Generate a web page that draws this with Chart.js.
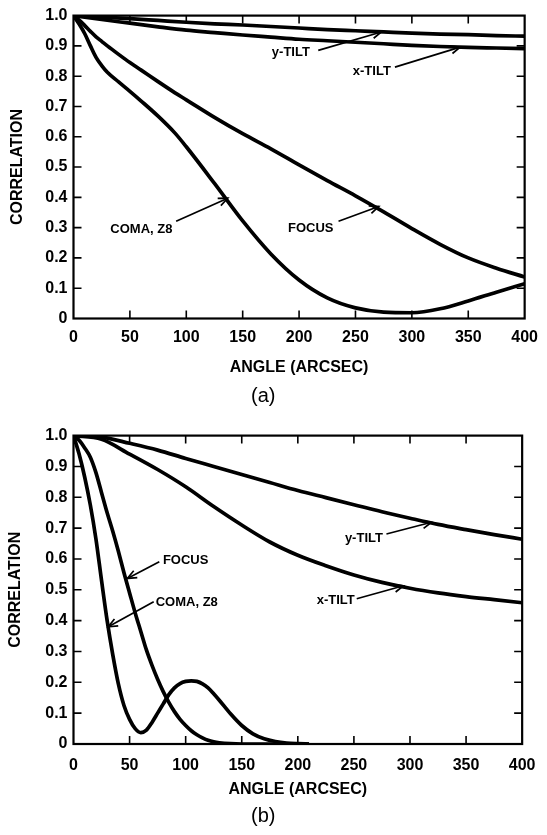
<!DOCTYPE html>
<html>
<head>
<meta charset="utf-8">
<script src="https://cdn.jsdelivr.net/npm/chart.js@4.4.1/dist/chart.umd.min.js"></script>
<style>
  html, body { margin: 0; padding: 0; background: #fff; }
  #wrap { position: relative; width: 547px; height: 835px; }
  canvas { position: absolute; left: 0; }
  #chartA { top: 0; }
  #chartB { top: 420px; }
</style>
</head>
<body>
<div id="wrap">
  <canvas id="chartA" width="547" height="420"></canvas>
  <canvas id="chartB" width="547" height="415"></canvas>
</div>
<script>
// ---- (a) ----
const tiltAnglesA = [0, 25, 50, 75, 100, 125, 150, 175, 200, 225, 250, 275, 300, 325, 350, 375, 400];
const yTiltA = [1.0, 0.995, 0.99, 0.984, 0.978, 0.973, 0.969, 0.964, 0.959, 0.954, 0.95, 0.946, 0.942, 0.939, 0.937, 0.934, 0.932];
const xTiltA = [1.0, 0.987, 0.975, 0.963, 0.952, 0.944, 0.936, 0.929, 0.922, 0.917, 0.912, 0.907, 0.902, 0.898, 0.895, 0.893, 0.891];

const aberrAnglesA = [0, 5, 10, 15, 20, 25, 30, 40, 50, 60, 75, 90, 100, 125, 150, 175, 200, 225, 250, 275, 300, 325, 350, 375, 400];
const focusA = [1.0, 0.985, 0.967, 0.948, 0.93, 0.915, 0.9, 0.872, 0.845, 0.82, 0.782, 0.745, 0.722, 0.664, 0.61, 0.56, 0.507, 0.455, 0.405, 0.352, 0.297, 0.245, 0.2, 0.166, 0.137];
const comaA = [1.0, 0.972, 0.94, 0.9, 0.862, 0.835, 0.813, 0.781, 0.75, 0.718, 0.668, 0.612, 0.567, 0.446, 0.322, 0.213, 0.127, 0.068, 0.035, 0.021, 0.019, 0.032, 0.058, 0.087, 0.115];

// ---- (b) ----
const tiltAnglesB = [0, 25, 50, 75, 100, 125, 150, 175, 200, 225, 250, 275, 300, 325, 350, 375, 400];
const yTiltB = [1.0, 0.995, 0.975, 0.953, 0.926, 0.9, 0.874, 0.848, 0.822, 0.799, 0.776, 0.753, 0.732, 0.712, 0.695, 0.679, 0.664];
const xTiltB = [1.0, 0.988, 0.94, 0.89, 0.834, 0.77, 0.71, 0.655, 0.612, 0.578, 0.548, 0.524, 0.505, 0.49, 0.478, 0.468, 0.458];

const aberrAnglesB = [0, 5, 10, 15, 20, 25, 30, 35, 40, 45, 50, 55, 60, 65, 70, 75, 80, 85, 90, 95, 100, 105, 110, 115, 120, 125, 130, 140, 150, 160, 170, 180, 190, 200, 210];
const focusB = [1.0, 0.985, 0.96, 0.93, 0.88, 0.815, 0.75, 0.69, 0.625, 0.555, 0.49, 0.425, 0.365, 0.305, 0.255, 0.21, 0.17, 0.135, 0.105, 0.08, 0.06, 0.043, 0.03, 0.02, 0.012, 0.007, 0.004, 0.001, 0, 0, 0, 0, 0, 0, 0];
const comaB = [1.0, 0.94, 0.865, 0.775, 0.665, 0.53, 0.4, 0.29, 0.195, 0.125, 0.08, 0.05, 0.037, 0.045, 0.07, 0.1, 0.13, 0.16, 0.182, 0.196, 0.203, 0.205, 0.203, 0.195, 0.182, 0.163, 0.142, 0.098, 0.06, 0.033, 0.017, 0.008, 0.003, 0.001, 0];

const xTicks = [0, 50, 100, 150, 200, 250, 300, 350, 400];
const yTicks = [0, 0.1, 0.2, 0.3, 0.4, 0.5, 0.6, 0.7, 0.8, 0.9, 1.0];

Chart.defaults.font.family = "'Liberation Sans', Arial, sans-serif";
Chart.defaults.color = "#000";

const toPoints = (xs, ys) => xs.map((x, i) => ({ x: x, y: ys[i] }));

const curve = (xs, ys) => ({
  data: toPoints(xs, ys),
  borderColor: "#000",
  borderWidth: 3.7,
  pointRadius: 0,
  fill: false,
  cubicInterpolationMode: "monotone",
});

// 枠と内向きの目盛り
const framePlugin = {
  id: "frame",
  afterDraw(chart) {
    const { ctx, chartArea: a, scales } = chart;
    ctx.save();
    ctx.strokeStyle = "#000";
    ctx.lineWidth = 1.6;
    const len = 8;
    xTicks.slice(1, -1).forEach((v) => {
      const px = scales.x.getPixelForValue(v);
      ctx.beginPath();
      ctx.moveTo(px, a.bottom); ctx.lineTo(px, a.bottom - len);
      ctx.moveTo(px, a.top); ctx.lineTo(px, a.top + len);
      ctx.stroke();
    });
    yTicks.slice(1, -1).forEach((v) => {
      const py = scales.y.getPixelForValue(v);
      ctx.beginPath();
      ctx.moveTo(a.left, py); ctx.lineTo(a.left + len, py);
      ctx.moveTo(a.right, py); ctx.lineTo(a.right - len, py);
      ctx.stroke();
    });
    ctx.lineWidth = 2.2;
    ctx.strokeRect(a.left, a.top, a.right - a.left, a.bottom - a.top);
    ctx.restore();
  },
};

// 矢印つきラベル
const calloutPlugin = {
  id: "callouts",
  afterDraw(chart, args, opts) {
    const { ctx, scales } = chart;
    const X = (v) => scales.x.getPixelForValue(v);
    const Y = (v) => scales.y.getPixelForValue(v);
    ctx.save();
    ctx.fillStyle = "#000";
    ctx.strokeStyle = "#000";
    ctx.font = "bold 13px 'Liberation Sans', Arial, sans-serif";
    ctx.textAlign = "center";
    ctx.textBaseline = "middle";
    (opts.items || []).forEach((it) => {
      ctx.fillText(it.text, X(it.at[0]), Y(it.at[1]));
      const x1 = X(it.from[0]), y1 = Y(it.from[1]);
      const x2 = X(it.to[0]), y2 = Y(it.to[1]);
      ctx.lineWidth = 1.7;
      ctx.beginPath();
      ctx.moveTo(x1, y1);
      ctx.lineTo(x2, y2);
      ctx.stroke();
      const ang = Math.atan2(y2 - y1, x2 - x1);
      const h = 10;
      ctx.beginPath();
      ctx.moveTo(x2 - h * Math.cos(ang - 0.4), y2 - h * Math.sin(ang - 0.4));
      ctx.lineTo(x2, y2);
      ctx.lineTo(x2 - h * Math.cos(ang + 0.4), y2 - h * Math.sin(ang + 0.4));
      ctx.stroke();
    });
    ctx.restore();
  },
};

const makeChart = (canvasId, datasets, cfg) => {
  const ctx = document.getElementById(canvasId).getContext("2d");
  return new Chart(ctx, {
    type: "line",
    data: { datasets: datasets },
    options: {
      responsive: false,
      animation: false,
      layout: { padding: { top: cfg.top, right: 20.5, left: 0, bottom: 0 } },
      plugins: {
        legend: { display: false },
        tooltip: { enabled: false },
        title: {
          display: true,
          position: "bottom",
          text: cfg.label,
          font: { size: 20, weight: "normal" },
          padding: { top: 0, bottom: cfg.labelPad },
        },
        callouts: { items: cfg.callouts },
      },
      scales: {
        x: {
          type: "linear",
          min: 0,
          max: 400,
          afterBuildTicks: (s) => { s.ticks = xTicks.map((v) => ({ value: v })); },
          afterFit: (s) => { s.height = cfg.xAxisHeight; },
          grid: { display: false, drawTicks: false },
          border: { display: false },
          ticks: { padding: cfg.xTickPad, font: { size: 16, weight: "bold" }, maxRotation: 0 },
          title: {
            display: true,
            text: "ANGLE (ARCSEC)",
            font: { size: 16, weight: "bold" },
            padding: { top: 0, bottom: cfg.xTitlePad },
          },
        },
        y: {
          min: 0,
          max: 1,
          afterBuildTicks: (s) => { s.ticks = yTicks.map((v) => ({ value: v })); },
          afterFit: (s) => { s.width = 73.5; },
          grid: { display: false, drawTicks: false },
          border: { display: false },
          ticks: {
            padding: 6,
            font: { size: 16, weight: "bold" },
            callback: (v) => (v === 0 ? "0" : v.toFixed(1)),
          },
          title: {
            display: true,
            text: "CORRELATION",
            font: { size: 16, weight: "bold" },
            padding: { top: cfg.yTitlePad, bottom: 0 },
          },
        },
      },
    },
    plugins: [framePlugin, calloutPlugin],
  });
};

makeChart(
  "chartA",
  [
    curve(tiltAnglesA, yTiltA),
    curve(tiltAnglesA, xTiltA),
    curve(aberrAnglesA, focusA),
    curve(aberrAnglesA, comaA),
  ],
  {
    top: 10.5,
    label: "(a)",
    labelPad: 12,
    xAxisHeight: 65.5,
    xTickPad: 9,
    xTitlePad: 6.9,
    yTitlePad: 7.9,
    callouts: [
      { text: "y-TILT", at: [192.7, 0.878], from: [217, 0.885], to: [273, 0.946] },
      { text: "x-TILT", at: [264.5, 0.816], from: [285, 0.83], to: [342.8, 0.896] },
      { text: "FOCUS", at: [210.3, 0.299], from: [235, 0.321], to: [270.6, 0.37] },
      { text: "COMA, Z8", at: [60.2, 0.294], from: [91, 0.321], to: [136.7, 0.397] },
    ],
  }
);

makeChart(
  "chartB",
  [
    curve(tiltAnglesB, yTiltB),
    curve(tiltAnglesB, xTiltB),
    curve(aberrAnglesB, focusB),
    curve(aberrAnglesB, comaB),
  ],
  {
    top: 15.5,
    label: "(b)",
    labelPad: 6.3,
    xAxisHeight: 60.7,
    xTickPad: 11.5,
    xTitlePad: 5.1,
    yTitlePad: 6.2,
    callouts: [
      { text: "y-TILT", at: [258.9, 0.668], from: [279, 0.681], to: [319.2, 0.719] },
      { text: "x-TILT", at: [233.8, 0.465], from: [252.5, 0.471], to: [294.2, 0.513] },
      { text: "FOCUS", at: [100, 0.596], from: [76.5, 0.591], to: [48, 0.537] },
      { text: "COMA, Z8", at: [101, 0.46], from: [71.5, 0.461], to: [31, 0.38] },
    ],
  }
);
</script>
</body>
</html>
